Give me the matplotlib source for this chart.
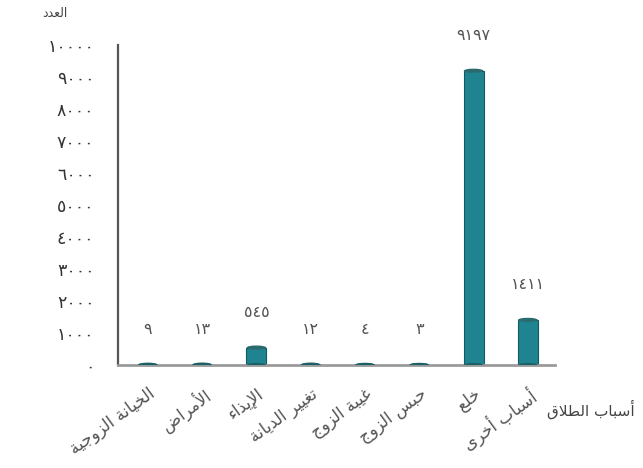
import matplotlib.pyplot as plt
from matplotlib.patches import Ellipse

# divorce causes and counts
causes = ["الخيانة الزوجية", "الأمراض", "الإيذاء", "تغيير الديانة",
          "غيبة الزوج", "حبس الزوج", "خلع", "أسباب أخرى"]
counts = [9, 13, 545, 12, 4, 3, 9197, 1411]
y_ticks = list(range(0, 10001, 1000))
x_title = "أسباب الطلاق"
y_title = "العدد"

# Arabic presentation forms: (isolated codepoint, number of forms)
FORMS = {
    'ء': (0xFE80, 1),
    'أ': (0xFE83, 2), 'إ': (0xFE87, 2), 'ا': (0xFE8D, 2),
    'ب': (0xFE8F, 4), 'ة': (0xFE93, 2), 'ت': (0xFE95, 4),
    'ج': (0xFE9D, 4), 'ح': (0xFEA1, 4), 'خ': (0xFEA5, 4),
    'د': (0xFEA9, 2), 'ذ': (0xFEAB, 2), 'ر': (0xFEAD, 2), 'ز': (0xFEAF, 2),
    'س': (0xFEB1, 4), 'ض': (0xFEBD, 4), 'ط': (0xFEC1, 4), 'ع': (0xFEC9, 4),
    'غ': (0xFECD, 4), 'ق': (0xFED5, 4), 'ل': (0xFEDD, 4), 'م': (0xFEE1, 4),
    'ن': (0xFEE5, 4), 'و': (0xFEED, 2), 'ى': (0xFEEF, 2), 'ي': (0xFEF1, 4),
}
LAM_ALEF = {'ا': 0xFEFB, 'أ': 0xFEF7, 'إ': 0xFEF9}
DIGITS = str.maketrans('0123456789', '٠١٢٣٤٥٦٧٨٩')


def shape(text):
    # pick joined letter forms, then reverse so it reads right to left
    tokens = []
    i = 0
    while i < len(text):
        c = text[i]
        if c == 'ل' and i + 1 < len(text) and text[i + 1] in LAM_ALEF:
            tokens.append(('LA', text[i + 1]))
            i += 2
        else:
            tokens.append(('C', c))
            i += 1

    def joins_next(tok):
        return tok[0] == 'C' and tok[1] in FORMS and FORMS[tok[1]][1] == 4

    def joins_prev(tok):
        return tok[0] == 'LA' or (tok[1] in FORMS and FORMS[tok[1]][1] >= 2)

    out = []
    for k, tok in enumerate(tokens):
        prev_j = k > 0 and joins_next(tokens[k - 1]) and joins_prev(tok)
        next_j = k + 1 < len(tokens) and joins_next(tok) and joins_prev(tokens[k + 1])
        kind, c = tok
        if kind == 'LA':
            out.append(chr(LAM_ALEF[c] + (1 if prev_j else 0)))
        elif c in FORMS:
            base, n = FORMS[c]
            if n == 4:
                off = {(False, False): 0, (True, False): 1,
                       (False, True): 2, (True, True): 3}[(prev_j, next_j)]
            elif n == 2:
                off = 1 if prev_j else 0
            else:
                off = 0
            out.append(chr(base + off))
        else:
            out.append(c)
    return ''.join(reversed(out))


def arabic_num(v):
    return str(v).translate(DIGITS)


plt.rcParams['font.family'] = ['DejaVu Sans']

fig = plt.figure(figsize=(6.43, 4.68), dpi=100)
ax = fig.add_axes([0.1835, 0.2201, 0.6796, 0.6837])

bar_color = '#1f8490'
edge_color = '#105a63'
width = 0.37
x = list(range(len(counts)))
ax.bar(x, counts, width=width, color=bar_color, edgecolor=edge_color,
       linewidth=0.8, zorder=2)

# cylinder ends
for xi, v in zip(x, counts):
    ax.add_patch(Ellipse((xi, v), width * 0.98, 130, facecolor='#2b6b70',
                         edgecolor='none', zorder=3))
    ax.add_patch(Ellipse((xi, 0), width * 0.98, 130, facecolor='#1d5f66',
                         edgecolor='none', zorder=3))
    ax.annotate(arabic_num(v), (xi, v), xytext=(0, 20),
                textcoords='offset points', ha='center', va='bottom',
                fontsize=11.5, color='#555555')

ax.set_xlim(-0.55, 7.5)
ax.set_ylim(0, 10000)
ax.set_yticks(y_ticks)
ax.set_yticklabels([arabic_num(t) for t in y_ticks],
                   fontsize=12.5, color='#333333')
ax.set_xticks(x)
ax.set_xticklabels([shape(c) for c in causes], rotation=36, ha='right',
                   va='top', rotation_mode='anchor', fontsize=12,
                   color='#555555')
ax.tick_params(axis='y', length=0, pad=17)
ax.tick_params(axis='x', length=0, pad=14)

for side in ('top', 'right'):
    ax.spines[side].set_visible(False)
ax.spines['left'].set_color('#555555')
ax.spines['left'].set_linewidth(1.6)
ax.spines['bottom'].set_color('#9a9a9a')
ax.spines['bottom'].set_linewidth(2)

fig.text(0.85, 0.125, shape(x_title), fontsize=11, color='#444444',
         ha='left', va='center')
fig.text(0.085, 0.972, shape(y_title), fontsize=9, color='#444444',
         ha='center', va='center')

fig.savefig('out.png', dpi=100)
